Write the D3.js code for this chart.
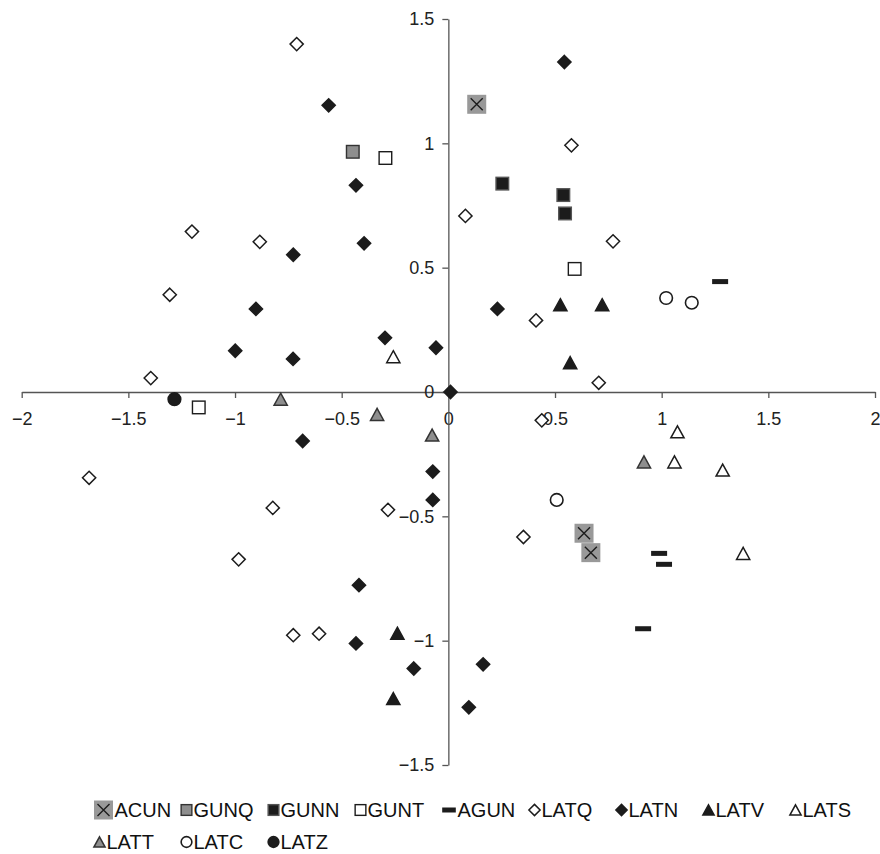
<!DOCTYPE html>
<html>
<head>
<meta charset="utf-8">
<script src="https://cdn.jsdelivr.net/npm/d3@7"></script>
<style>
  html, body { margin: 0; padding: 0; background: #fff; }
  svg { display: block; font-family: "Liberation Sans", Arial, Helvetica, sans-serif; }
</style>
</head>
<body>
<svg id="chart" width="880" height="854"></svg>
<script>
// Series names, in drawing / legend order
const seriesNames = ["ACUN", "GUNQ", "GUNN", "GUNT", "AGUN", "LATQ", "LATN", "LATV", "LATS", "LATT", "LATC", "LATZ"];

// Coordinates per series
const acunX = [0.133, 0.636, 0.668];
const acunY = [1.157, -0.568, -0.646];
const gunqX = [-0.448];
const gunqY = [0.966];
const gunnX = [0.253, 0.539, 0.547];
const gunnY = [0.838, 0.792, 0.718];
const guntX = [-0.295, 0.592, -1.170];
const guntY = [0.941, 0.495, -0.062];
const agunX = [1.274, 0.988, 1.011, 0.913];
const agunY = [0.444, -0.649, -0.693, -0.952];
const latqX = [-0.711, -1.202, -0.884, -1.306, -1.395, 0.577, 0.080, 0.772, 0.411, 0.705, 0.438, 0.352, -1.684, -0.823, -0.283, -0.983, -0.727, -0.606];
const latqY = [1.399, 0.645, 0.604, 0.391, 0.056, 0.992, 0.708, 0.606, 0.288, 0.037, -0.114, -0.583, -0.345, -0.466, -0.474, -0.673, -0.978, -0.972];
const latnX = [0.544, -0.561, -0.433, -0.395, -0.727, -0.902, -0.297, -0.058, -0.999, -0.728, 0.230, 0.010, -0.683, -0.073, -0.073, -0.419, -0.433, -0.162, 0.163, 0.096];
const latnY = [1.327, 1.153, 0.831, 0.598, 0.552, 0.334, 0.218, 0.178, 0.166, 0.133, 0.334, 0.000, -0.197, -0.320, -0.434, -0.777, -1.011, -1.112, -1.095, -1.268];
const latvX = [0.525, 0.721, 0.571, -0.239, -0.258];
const latvY = [0.351, 0.351, 0.118, -0.970, -1.233];
const latsX = [-0.258, 1.074, 1.060, 1.286, 1.382];
const latsY = [0.142, -0.160, -0.281, -0.314, -0.649];
const lattX = [-0.786, -0.334, -0.076, 0.917];
const lattY = [-0.029, -0.090, -0.173, -0.281];
const latcX = [1.021, 1.141, 0.508];
const latcY = [0.378, 0.359, -0.434];
const latzX = [-1.284];
const latzY = [-0.029];

// Axis ticks
const xTicks = [-2, -1.5, -1, -0.5, 0, 0.5, 1, 1.5, 2];
const yTicks = [-1.5, -1, -0.5, 0, 0.5, 1, 1.5];

// Marker styles
const BLACK = "#1c1c1c", GREY = "#999999", GREY2 = "#8e8e8e";
const styles = {
  ACUN: { shape: "xbox" },
  GUNQ: { shape: "square", fill: GREY2, stroke: "#333" },
  GUNN: { shape: "square", fill: BLACK, stroke: "#555" },
  GUNT: { shape: "square", fill: "#fff", stroke: BLACK },
  AGUN: { shape: "dash", fill: BLACK },
  LATQ: { shape: "diamond", fill: "#fff", stroke: BLACK },
  LATN: { shape: "diamond", fill: BLACK, stroke: BLACK },
  LATV: { shape: "triangle", fill: BLACK, stroke: BLACK },
  LATS: { shape: "triangle", fill: "#fff", stroke: BLACK },
  LATT: { shape: "triangle", fill: GREY2, stroke: "#333" },
  LATC: { shape: "circle", fill: "#fff", stroke: BLACK },
  LATZ: { shape: "circle", fill: BLACK, stroke: BLACK }
};

const seriesX = [acunX, gunqX, gunnX, guntX, agunX, latqX, latnX, latvX, latsX, lattX, latcX, latzX];
const seriesY = [acunY, gunqY, gunnY, guntY, agunY, latqY, latnY, latvY, latsY, lattY, latcY, latzY];
const series = seriesNames.map((name, i) => ({
  name,
  style: styles[name],
  points: seriesX[i].map((x, j) => ({ x, y: seriesY[i][j] }))
}));

const svg = d3.select("#chart");
const x = d3.scaleLinear().domain([-2, 2]).range([21.7, 875]);
const y = d3.scaleLinear().domain([-1.5, 1.5]).range([765, 19]);

const fmt = v => (v < 0 ? "\u2212" : "") + String(Math.abs(v));

// Axes crossing at the origin
const xAxis = svg.append("g")
  .attr("transform", `translate(0,${y(0)})`)
  .call(d3.axisBottom(x).tickValues(xTicks).tickFormat(fmt).tickSize(6).tickSizeOuter(0).tickPadding(14));
const yAxis = svg.append("g")
  .attr("transform", `translate(${x(0)},0)`)
  .call(d3.axisLeft(y).tickValues(yTicks).tickFormat(fmt).tickSize(6).tickSizeOuter(0).tickPadding(8));

[xAxis, yAxis].forEach(g => {
  g.selectAll("path.domain").attr("stroke", "#555").attr("stroke-width", 1.3);
  g.selectAll(".tick line").attr("stroke", "#555").attr("stroke-width", 1.3);
  g.selectAll("text").attr("font-size", 18).attr("fill", "#222")
    .attr("font-family", '"Liberation Sans", Arial, Helvetica, sans-serif');
});

// Draw one marker of a given style into a group centred at (0,0)
function drawMarker(g, st, scale) {
  const k = scale || 1;
  switch (st.shape) {
    case "xbox": {
      const h = 9.5;
      g.append("rect").attr("x", -h).attr("y", -h).attr("width", 2 * h).attr("height", 2 * h).attr("fill", GREY);
      const a = 6;
      g.append("path").attr("d", `M${-a},${-a}L${a},${a}M${-a},${a}L${a},${-a}`)
        .attr("stroke", BLACK).attr("stroke-width", 1.4).attr("fill", "none");
      break;
    }
    case "square": {
      const h = 6.3 * k;
      g.append("rect").attr("x", -h).attr("y", -h).attr("width", 2 * h).attr("height", 2 * h)
        .attr("fill", st.fill).attr("stroke", st.stroke).attr("stroke-width", 1.4);
      break;
    }
    case "dash": {
      const w = 8 * k, hh = 2.5;
      g.append("rect").attr("x", -w).attr("y", -hh).attr("width", 2 * w).attr("height", 2 * hh).attr("fill", st.fill);
      break;
    }
    case "diamond": {
      const h = 6.6 * k;
      g.append("path").attr("d", `M0,${-h}L${h},0L0,${h}L${-h},0Z`)
        .attr("fill", st.fill).attr("stroke", st.stroke).attr("stroke-width", 1.5).attr("stroke-linejoin", "miter");
      break;
    }
    case "triangle": {
      const w = 6.6 * k, h = 6 * k;
      g.append("path").attr("d", `M0,${-h}L${w},${h}L${-w},${h}Z`)
        .attr("fill", st.fill).attr("stroke", st.stroke).attr("stroke-width", 1.5).attr("stroke-linejoin", "miter");
      break;
    }
    case "circle": {
      g.append("circle").attr("r", 6.3 * k)
        .attr("fill", st.fill).attr("stroke", st.stroke).attr("stroke-width", 1.6);
      break;
    }
  }
}

// Points
const plot = svg.append("g");
series.forEach(s => {
  const sg = plot.append("g").attr("class", "series");
  sg.selectAll("g.pt").data(s.points).enter().append("g")
    .attr("class", "pt")
    .attr("transform", d => `translate(${x(d.x)},${y(d.y)})`)
    .each(function () { drawMarker(d3.select(this), s.style); });
});

// Legend: two rows on a fixed column grid
const legendLeft = 94, colWidth = 87, rowBase = [817, 849], perRow = 9;
const legend = svg.append("g");
series.forEach((s, i) => {
  const row = Math.floor(i / perRow), col = i % perRow;
  const x0 = legendLeft + col * colWidth;
  const cy = rowBase[row] - 7;
  const half = s.style.shape === "xbox" ? 9.5 : (s.style.shape === "dash" ? 7 : 5.5);
  const item = legend.append("g");
  const mg = item.append("g").attr("transform", `translate(${x0 + half},${cy})`);
  drawMarker(mg, s.style, s.style.shape === "xbox" ? 1 : 0.85);
  item.append("text")
    .attr("x", x0 + 2 * half + 1.5)
    .attr("y", rowBase[row])
    .attr("font-size", 20)
    .attr("fill", "#111")
    .text(s.name);
});
</script>
</body>
</html>
